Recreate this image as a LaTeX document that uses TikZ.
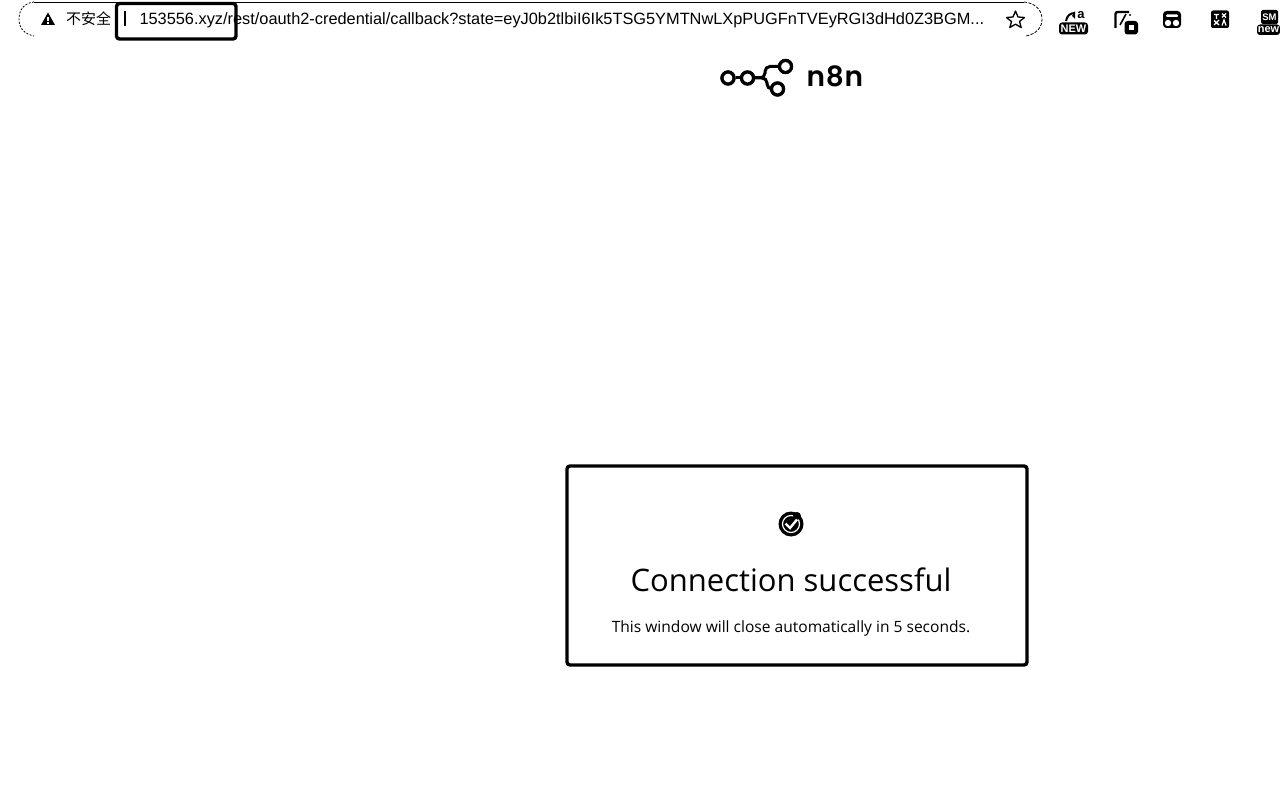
\documentclass[tikz,border=0pt]{standalone}
\usepackage{fontspec}
\setmainfont{Liberation Sans}
\newfontfamily\cjk{Noto Sans CJK SC}
\newfontfamily\opensans{Open Sans}
\newfontfamily\pop[LetterSpace=3]{Poppins SemiBold}
\usetikzlibrary{calc}
\tikzset{
  txt/.style={inner sep=0pt,outer sep=0pt,text=black,anchor=base west},
  ring/.style={draw=black,line width=3.2pt,fill=white,circle,minimum size=12pt,inner sep=0pt},
  branch/.style={draw=black,line width=3pt},
  badge/.style={fill=black,rounded corners=3pt},
  boxline/.style={draw=black,line width=3.4pt,rounded corners=3pt},
  badgetxt/.style={inner sep=0pt,text=white}
}
\begin{document}
\begin{tikzpicture}[x=1pt,y=-1pt]
\useasboundingbox (0,0) rectangle (1280,786);
\fill[white] (0,0) rectangle (1280,786);
% address bar outline
\draw[black,line width=0.9pt] (34,2) -- (1024,2);
\draw[black,line width=0.8pt,dash pattern=on 2pt off 1.5pt] (34,2) .. controls (24,3) and (19,10) .. (19,19) .. controls (19,28) and (24,34) .. (34,36);
\draw[black,line width=0.8pt,dash pattern=on 3pt off 1.5pt] (1024,2) .. controls (1035,3) and (1042,10) .. (1042,19) .. controls (1042,28) and (1036,34) .. (1026,36);
% warning
\fill[black] (48,12.5) -- (55,25) -- (41,25) -- cycle;
\fill[white] (47.4,17) rectangle (48.6,21.5);
\fill[white] (47.4,22.3) rectangle (48.6,23.6);
\node[txt,font=\cjk\fontsize{15}{15}\selectfont] (warn) at (66,25) {不安全};
\draw[black,line width=2pt] (124.5,11.5) -- (124.5,26);
\node[txt,font=\fontsize{16.35}{16}\selectfont] (url) at (139.5,25) {153556.xyz/rest/oauth2-credential/callback?state=eyJ0b2tlbiI6Ik5TSG5YMTNwLXpPUGFnTVEyRGI3dHd0Z3BGM...};
\draw[boxline] (116.5,3.5) rectangle (236,39);
% star
\draw[black,line width=1.3pt,line join=round] (1015.5,11) -- (1018,17) -- (1024.5,17.5) -- (1019.5,21.5) -- (1021.2,27.5) -- (1015.5,24.2) -- (1009.8,27.5) -- (1011.5,21.5) -- (1006.5,17.5) -- (1013,17) -- cycle;
% extension icon 1
\fill[badge] (1059,22.5) rectangle (1088,34.5);
\node[badgetxt,font=\fontsize{11}{11}\selectfont\bfseries] (new1) at (1073.5,28.5) {NEW};
\draw[black,line width=2pt] (1066,21) .. controls (1067,15) and (1071,13) .. (1075,13);
\fill[black] (1072,16) -- (1075,11) -- (1075,19) -- cycle;
\node[inner sep=0pt,text=black,font=\fontsize{13}{13}\selectfont\bfseries] (gl1) at (1081,15.5) {a};
% extension icon 2
\draw[black,line width=2.4pt,rounded corners=2pt] (1115.5,28) -- (1115.5,12) -- (1129,12);
\draw[black,line width=1.6pt] (1126,14) -- (1120,25);
\fill[black] (1130,15) circle (1.2pt);
\fill[black,rounded corners=3pt] (1124.5,21) rectangle (1138,34.5);
\fill[white] (1129,25.5) rectangle (1134,30);
% extension icon 3
\fill[black,rounded corners=3.5pt] (1163,11) rectangle (1181,28);
\fill[white,rounded corners=1pt] (1166,14.5) rectangle (1178,17);
\fill[white] (1168,23) circle (3.2pt);
\fill[white] (1176,23) circle (3.2pt);
% extension icon 4
\fill[black,rounded corners=2pt] (1211,10.5) rectangle (1229,28);
\draw[white,line width=1.3pt] (1214,14.5) -- (1219,14.5) (1216.5,14.5) -- (1216.5,19) (1222,13.5) -- (1226,17.5) (1226,13.5) -- (1222,17.5) (1214,25) -- (1219,20) (1214,20.5) -- (1219,25) (1222,25.5) -- (1224,20) -- (1226,25.5);
% extension icon 5
\fill[black,rounded corners=1.5pt] (1261,10) rectangle (1278,24);
\node[badgetxt,font=\fontsize{9.5}{9.5}\selectfont\bfseries] (sm) at (1269.5,17.5) {SM};
\fill[badge] (1257,24.5) rectangle (1280,35);
\node[badgetxt,font=\fontsize{11}{11}\selectfont\bfseries] (new2) at (1268.5,29.3) {new};
% n8n logo
\node[ring] (r1) at (728,78) {};
\node[ring] (r2) at (747.5,78) {};
\node[ring] (r3) at (785.5,66.5) {};
\node[ring] (r4) at (777.5,89) {};
\coordinate (hub) at (761,78);
\draw[branch] (r1) -- (r2);
\draw[branch] (r2) -- (hub);
\draw[branch,rounded corners=5pt] (hub) -- (765,78) -- (765,66.5) -- (r3);
\draw[branch,rounded corners=5pt] (hub) -- (767,78) -- (767,89) -- (r4);
\node[ring] at (728,78) {};
\node[ring] at (747.5,78) {};
\node[ring] at (785.5,66.5) {};
\node[ring] at (777.5,89) {};
\node[txt,font=\pop\fontsize{28}{28}\selectfont] (brand) at (806.5,87) {n8n};
% card
\draw[boxline] (567,466) rectangle (1027,665);
\fill[black] (791,524) circle (12.5pt);
\draw[white,line width=1.2pt] (791,524) circle (8.5pt);
\fill[black] (797,516) circle (4pt);
\draw[white,line width=2.4pt] (785.5,523.5) -- (790,528) -- (797,519.5);
\node[inner sep=0pt,font=\opensans\fontsize{31}{31}\selectfont,text=black] (title) at (791,580) {Connection successful};
\node[inner sep=0pt,font=\opensans\fontsize{15.56}{16}\selectfont,text=black] (msg) at (791,628.5) {This window will close automatically in 5 seconds.};
\end{tikzpicture}
\end{document}
